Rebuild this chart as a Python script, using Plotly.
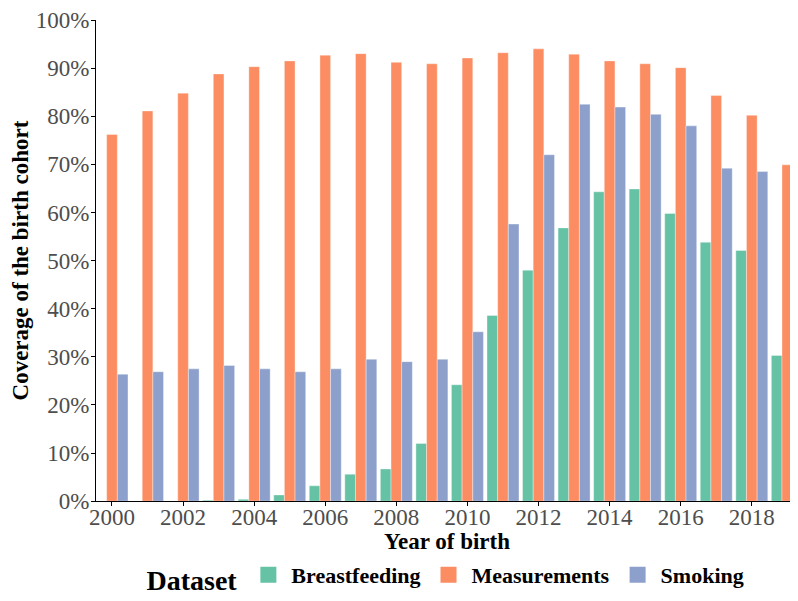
import plotly.graph_objects as go

years = list(range(2000, 2020))
breastfeeding = [None, None, None, 0.2, 0.4, 1.3, 3.2, 5.6, 6.7, 12.0,
                 24.2, 38.6, 48.0, 56.8, 64.3, 64.9, 59.8, 53.8, 52.1, 30.3]
measurements = [76.2, 81.1, 84.8, 88.8, 90.3, 91.5, 92.7, 93.0, 91.2, 90.9,
                92.1, 93.2, 94.0, 92.9, 91.5, 90.9, 90.1, 84.3, 80.2, 69.9]
smoking = [26.4, 26.9, 27.5, 28.2, 27.5, 26.9, 27.5, 29.5, 29.0, 29.5,
           35.2, 57.6, 72.0, 82.5, 81.9, 80.4, 78.0, 69.2, 68.5, 60.8]

series = [("Breastfeeding", breastfeeding, "#66C2A5"),
          ("Measurements", measurements, "#FC8D62"),
          ("Smoking", smoking, "#8DA0CB")]

font = "Liberation Serif, Times New Roman, serif"

fig = go.Figure()
for name, vals, col in series:
    fig.add_trace(go.Bar(x=years, y=vals, name=name, legendgroup=name, showlegend=False,
                         marker=dict(color=col, line=dict(color="rgba(255,255,255,0.6)", width=0.6))))
# legend entries with larger square keys
for name, vals, col in series:
    fig.add_trace(go.Scatter(x=[None], y=[None], mode="markers", name="<b>" + name + "</b>",
                             legendgroup=name,
                             marker=dict(symbol="square", size=20, color=col)))

# the page adds an 8px body margin; size the figure so the plot fills the window as in the reference
fig.update_layout(
    width=790, height=593,
    margin=dict(l=88, r=0, t=11, b=98),
    plot_bgcolor="white", paper_bgcolor="white",
    barmode="group", bargap=0.1, bargroupgap=0,
    font=dict(family=font, color="black"),
    xaxis=dict(range=[1999.55, 2019.3], tick0=2000, dtick=2, automargin=True,
               showline=True, linecolor="black", linewidth=1.2,
               ticks="outside", ticklen=4, tickcolor="black", ticklabelstandoff=-9,
               ticklabeloverflow="allow",
               tickfont=dict(family=font, size=23, color="#4D4D4D"),
               showgrid=False, zeroline=False,
               title=dict(text="<b>Year of birth</b>", font=dict(family=font, size=23, color="black"), standoff=8)),
    yaxis=dict(range=[0, 100], dtick=10, ticksuffix="%", automargin=True,
               showline=True, linecolor="black", linewidth=1.2,
               ticks="outside", ticklen=4, tickcolor="black", ticklabelstandoff=-3,
               ticklabeloverflow="allow",
               tickfont=dict(family=font, size=23, color="#4D4D4D"),
               showgrid=False, zeroline=False,
               title=dict(text="<b>Coverage of the birth cohort</b>", font=dict(family=font, size=23, color="black"), standoff=4)),
    legend=dict(orientation="h", x=0.5, xanchor="center", xref="paper",
                y=0, yanchor="bottom", yref="container",
                title=dict(text="<b>Dataset</b>", font=dict(family=font, size=28, color="black")),
                font=dict(family=font, size=22, color="black"),
                itemwidth=36),
)

fig.write_html("out.html")
